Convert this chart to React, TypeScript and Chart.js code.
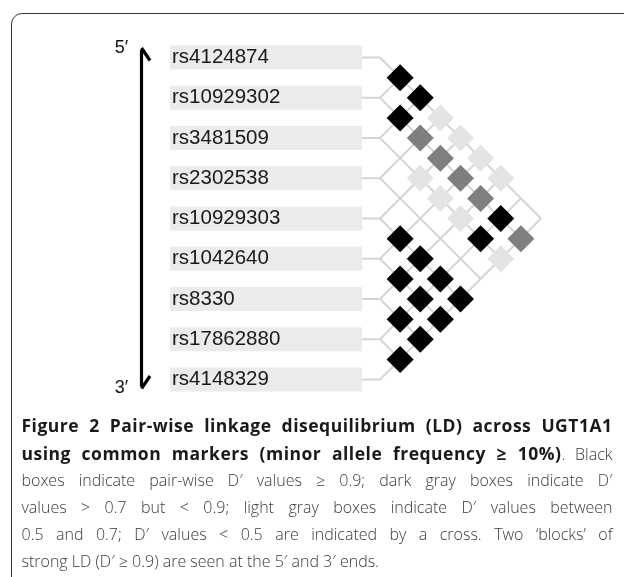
import React, { useEffect, useRef } from 'react';
import { Chart, registerables } from 'chart.js';

Chart.register(...registerables);

// ---- data ----
const SNPS = [
  'rs4124874',
  'rs10929302',
  'rs3481509',
  'rs2302538',
  'rs10929303',
  'rs1042640',
  'rs8330',
  'rs17862880',
  'rs4148329',
];

// Estimated pair-wise D' of each SNP with every later SNP (read from the box shades)
const DPRIME_RS4124874 = [1.0, 0.95, 0.6, 0.6, 0.6, 0.6, 0.3, 0.3];
const DPRIME_RS10929302 = [1.0, 0.8, 0.8, 0.8, 0.8, 0.95, 0.8];
const DPRIME_RS3481509 = [0.3, 0.6, 0.6, 0.6, 0.95, 0.6];
const DPRIME_RS2302538 = [0.3, 0.3, 0.3, 0.3, 0.3];
const DPRIME_RS10929303 = [1.0, 1.0, 0.95, 0.95];
const DPRIME_RS1042640 = [1.0, 1.0, 0.95];
const DPRIME_RS8330 = [1.0, 1.0];
const DPRIME_RS17862880 = [1.0];

const DPRIME_ROWS = [
  DPRIME_RS4124874,
  DPRIME_RS10929302,
  DPRIME_RS3481509,
  DPRIME_RS2302538,
  DPRIME_RS10929303,
  DPRIME_RS1042640,
  DPRIME_RS8330,
  DPRIME_RS17862880,
];

const BLACK_MIN = 0.9;
const DARK_MIN = 0.7;
const LIGHT_MIN = 0.5;

const CAPTION_LINES = [
  'Figure 2 Pair-wise linkage disequilibrium (LD) across UGT1A1',
  'using common markers (minor allele frequency ≥ 10%)|. Black',
  'boxes indicate pair-wise D′ values ≥ 0.9; dark gray boxes indicate D′',
  'values > 0.7 but < 0.9; light gray boxes indicate D′ values between',
  '0.5 and 0.7; D′ values < 0.5 are indicated by a cross. Two ‘blocks’ of',
  'strong LD (D′ ≥ 0.9) are seen at the 5′ and 3′ ends.',
];

// ---- layout (pixels) ----
const CANVAS_W = 624;
const CANVAS_H = 420;
const PAD = 16; // chart-area inset on top, right and bottom
const ROW_PX = 40.25; // one SNP step
const ROW0_PX = 57.5; // y of first SNP
const GRID_X0_PX = 380; // where the lattice starts
const LABEL_LEFT_PX = 172;
const BAND_LEFT_PX = 170;
const BAND_RIGHT_PX = 362;
const ARROW_X_PX = 141.5;
const ARROW_TOP_PX = 48;
const ARROW_BOTTOM_PX = 388.5;
const PRIME_X_PX = 121.5;

const toX = (px: number) => (px - GRID_X0_PX) / ROW_PX;
const toY = (px: number) => (px - ROW0_PX) / ROW_PX;

const X_MIN = toX(BAND_RIGHT_PX);
const X_MAX = toX(CANVAS_W - PAD);
const Y_MIN = toY(PAD);
const Y_MAX = toY(CANVAS_H - PAD);

function shade(d: number): string {
  if (d >= BLACK_MIN) return '#000000';
  if (d > DARK_MIN) return '#7f7f7f';
  if (d >= LIGHT_MIN) return '#e4e4e4';
  return 'rgba(0,0,0,0)';
}

const endLabelsPlugin = {
  id: 'endLabels',
  afterDatasetsDraw(chart: any) {
    const { ctx, scales } = chart;
    const xs = scales.x;
    const ys = scales.y;
    ctx.save();
    ctx.fillStyle = '#111111';
    ctx.font = '18px "Liberation Sans", Arial, sans-serif';
    ctx.textAlign = 'center';
    ctx.textBaseline = 'middle';
    const px = xs.getPixelForValue(toX(PRIME_X_PX));
    ctx.fillText('5\u2032', px, ys.getPixelForValue(toY(ARROW_TOP_PX)));
    ctx.fillText('3\u2032', px, ys.getPixelForValue(toY(ARROW_BOTTOM_PX)));
    ctx.restore();
  },
};

export default function App() {
  const canvasRef = useRef<HTMLCanvasElement | null>(null);

  useEffect(() => {
    const canvas = canvasRef.current;
    if (!canvas) return;

    const cells: { x: number; y: number; d: number }[] = [];
    DPRIME_ROWS.forEach((row, i) => {
      row.forEach((d, k) => {
        const j = i + 1 + k;
        cells.push({ x: (j - i) / 2, y: (i + j) / 2, d });
      });
    });

    const n = SNPS.length - 1;
    const lineStyle = {
      type: 'scatter' as const,
      showLine: true,
      borderColor: '#d4d4d4',
      borderWidth: 2,
      pointRadius: 0,
      pointHoverRadius: 0,
      borderJoinStyle: 'miter' as const,
      order: 5,
    };

    const latticeSets: any[] = [];
    const bandSets: any[] = [];
    SNPS.forEach((name, i) => {
      latticeSets.push({
        ...lineStyle,
        label: 'lattice ' + name,
        data: [
          { x: i / 2, y: i / 2 },
          { x: 0, y: i },
          { x: (n - i) / 2, y: (i + n) / 2 },
        ],
      });
      latticeSets.push({
        ...lineStyle,
        label: 'link ' + name,
        data: [
          { x: X_MIN, y: i },
          { x: 0, y: i },
        ],
      });
      bandSets.push({
        type: 'scatter',
        showLine: true,
        label: 'band ' + name,
        data: [
          { x: toX(BAND_LEFT_PX), y: i },
          { x: X_MIN, y: i },
        ],
        borderColor: '#ebebeb',
        borderWidth: 24,
        borderCapStyle: 'butt',
        pointRadius: 0,
        pointHoverRadius: 0,
        clip: false,
        order: 10,
      });
    });

    const ax = toX(ARROW_X_PX);
    const aTop = toY(ARROW_TOP_PX);
    const aBot = toY(ARROW_BOTTOM_PX);
    const headW = 8.5 / ROW_PX;
    const headH = 12.5 / ROW_PX;
    const arrowStyle = {
      type: 'scatter' as const,
      showLine: true,
      borderColor: '#000000',
      borderWidth: 3.2,
      pointRadius: 0,
      pointHoverRadius: 0,
      borderJoinStyle: 'miter' as const,
      clip: false as const,
      order: 2,
    };

    const chart = new Chart(canvas, {
      type: 'scatter',
      data: {
        datasets: [
          {
            label: "D'",
            data: cells,
            pointStyle: 'rectRot',
            pointRadius: 13.5,
            pointHoverRadius: 13.5,
            borderWidth: 0,
            pointBorderWidth: 0,
            backgroundColor: cells.map((c) => shade(c.d)),
            pointBackgroundColor: cells.map((c) => shade(c.d)),
            order: 1,
          } as any,
          ...latticeSets,
          {
            ...arrowStyle,
            label: 'arrow shaft',
            data: [
              { x: ax, y: aTop + 0.05 },
              { x: ax, y: aBot - 0.05 },
            ],
          },
          {
            ...arrowStyle,
            label: "5' head",
            data: [
              { x: ax - headW, y: aTop + headH },
              { x: ax, y: aTop },
              { x: ax + headW, y: aTop + headH },
            ],
          },
          {
            ...arrowStyle,
            label: "3' head",
            data: [
              { x: ax - headW, y: aBot - headH },
              { x: ax, y: aBot },
              { x: ax + headW, y: aBot - headH },
            ],
          },
          ...bandSets,
        ],
      },
      options: {
        animation: false,
        responsive: false,
        events: [],
        layout: {
          autoPadding: false,
          padding: { left: LABEL_LEFT_PX, right: PAD, top: PAD, bottom: PAD },
        },
        plugins: {
          legend: { display: false },
          tooltip: { enabled: false },
        },
        scales: {
          x: {
            type: 'linear',
            display: false,
            offset: false,
            min: X_MIN,
            max: X_MAX,
          },
          y: {
            type: 'linear',
            reverse: true,
            offset: false,
            min: Y_MIN,
            max: Y_MAX,
            grid: { display: false },
            border: { display: false },
            afterBuildTicks: (scale: any) => {
              scale.ticks = SNPS.map((_, i) => ({ value: i }));
            },
            afterFit: (scale: any) => {
              scale.width = BAND_RIGHT_PX - LABEL_LEFT_PX;
            },
            ticks: {
              z: 1,
              padding: 0,
              autoSkip: false,
              crossAlign: 'far',
              color: '#1a1a1a',
              font: { family: '"Liberation Sans", Arial, sans-serif', size: 20.5 },
              callback: (value: any) => SNPS[value as number] ?? '',
            },
          } as any,
        },
      },
      plugins: [endLabelsPlugin],
    });

    return () => chart.destroy();
  }, []);

  return (
    <div
      style={{
        position: 'fixed',
        left: 0,
        top: 0,
        width: CANVAS_W,
        height: 577,
        overflow: 'hidden',
        background: '#ffffff',
      }}
    >
      <div
        style={{
          position: 'absolute',
          left: 11,
          top: 13,
          width: 720,
          height: 700,
          border: '1.5px solid #3a3a3a',
          borderRadius: 11,
          boxSizing: 'border-box',
        }}
      />
      <canvas
        ref={canvasRef}
        width={CANVAS_W}
        height={CANVAS_H}
        style={{ position: 'absolute', left: 0, top: 0, width: CANVAS_W, height: CANVAS_H }}
      />
      <div
        style={{
          position: 'absolute',
          left: 21.5,
          top: 412,
          width: 591,
          fontFamily: '"Open Sans", sans-serif',
          fontSize: 16,
          fontWeight: 300,
          lineHeight: '26.7px',
          color: '#3a3a3a',
        }}
      >
        {CAPTION_LINES.map((line, k) => {
          const last = k === CAPTION_LINES.length - 1;
          const boldEnd = k === 0 ? line.length : k === 1 ? line.indexOf('|') : 0;
          const boldPart = line.slice(0, boldEnd);
          const rest = k === 1 ? line.slice(boldEnd + 1) : line.slice(boldEnd);
          return (
            <div
              key={k}
              style={{
                whiteSpace: 'nowrap',
                textAlign: last ? 'left' : 'justify',
                textAlignLast: last ? 'left' : 'justify',
              }}
            >
              {boldPart && (
                <b
                  style={{
                    color: '#1a1a1a',
                    fontSize: 17.5,
                    fontWeight: 700,
                    letterSpacing: '0.5px',
                  }}
                >
                  {boldPart}
                </b>
              )}
              {rest}
            </div>
          );
        })}
      </div>
    </div>
  );
}
